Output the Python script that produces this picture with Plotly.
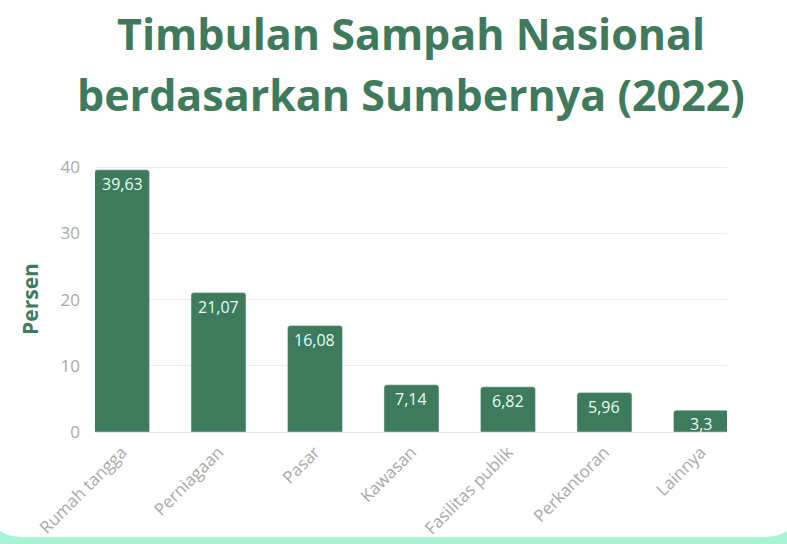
import plotly.graph_objects as go

# data
categories = ["Rumah tangga", "Perniagaan", "Pasar", "Kawasan",
              "Fasilitas publik", "Perkantoran", "Lainnya"]
persen = [39.63, 21.07, 16.08, 7.14, 6.82, 5.96, 3.3]
labels = ["39,63", "21,07", "16,08", "7,14", "6,82", "5,96", "3,3"]
y_ticks = [0, 10, 20, 30, 40]
title_lines = ["Timbulan Sampah Nasional", "berdasarkan Sumbernya (2022)"]

GREEN = "#3d7b5c"
TITLE_GREEN = "#3f7a5c"
MINT = "#a9f3d6"
GREY = "#a9a9a9"

W, H = 787, 544
ML, MR, MT, MB = 95, 60, 166, 112
PW, PH = W - ML - MR, H - MT - MB


def px(x, y):
    """pixel position -> paper coords"""
    return (x - ML) / PW, (H - MB - y) / PH


def card_path():
    pts = [("M", -10, -10), ("L", 797, -10), ("L", 797, 505),
           ("Q", 797, 537, 765, 537), ("L", 22, 537),
           ("Q", -10, 537, -10, 505), ("Z",)]
    out = []
    for p in pts:
        if p[0] == "Z":
            out.append("Z")
            continue
        coords = []
        for i in range(1, len(p), 2):
            xp, yp = px(p[i], p[i + 1])
            coords.append(f"{xp:.4f},{yp:.4f}")
        out.append(p[0] + " " + " ".join(coords))
    return " ".join(out)


fig = go.Figure()
fig.add_trace(go.Bar(
    x=categories, y=persen,
    marker=dict(color=GREEN, cornerradius=3),
    width=0.57,
    hoverinfo="skip",
))

# value labels inside the top of each bar
for cat, val, lab in zip(categories, persen, labels):
    fig.add_annotation(x=cat, y=val, text=lab, showarrow=False,
                       yanchor="middle", yshift=-14,
                       font=dict(family="Open Sans", size=16, color="#e6fff2"))

# two-line title, placed by pixel centre
for line, yc in zip(title_lines, [34, 94]):
    xp, yp = px(411, yc)
    fig.add_annotation(x=xp, y=yp, xref="paper", yref="paper", text=line,
                       showarrow=False, xanchor="center", yanchor="middle",
                       font=dict(family="Open Sans", size=43, color=TITLE_GREEN,
                                 weight="bold"))

fig.add_shape(type="path", path=card_path(), xref="paper", yref="paper",
              fillcolor="white", line=dict(width=0), layer="below")

fig.update_layout(
    width=W, height=H,
    margin=dict(l=ML, r=MR, t=MT, b=MB, pad=0),
    paper_bgcolor=MINT,
    plot_bgcolor="rgba(0,0,0,0)",
    showlegend=False,
    font=dict(family="Open Sans"),
)

fig.update_xaxes(
    range=[-0.28, 6.27],
    tickangle=-45,
    tickfont=dict(family="Open Sans", size=17, color=GREY),
    ticklabelstandoff=6,
    automargin=False,
    showgrid=False,
    showline=False,
    ticks="",
)
fig.update_yaxes(
    range=[0, 40.2],
    tickvals=y_ticks,
    tickfont=dict(family="Open Sans", size=17, color=GREY),
    ticklabelstandoff=14,
    automargin=False,
    showgrid=True, gridcolor="#ececec", gridwidth=1,
    zeroline=True, zerolinecolor="#e4e4e4", zerolinewidth=1,
    title=dict(text="<b>Persen</b>", standoff=16,
               font=dict(family="Open Sans", size=21, color=TITLE_GREEN)),
)

fig.write_html("out.html", config={"displayModeBar": False},
               post_script="document.body.style.margin='0';")
